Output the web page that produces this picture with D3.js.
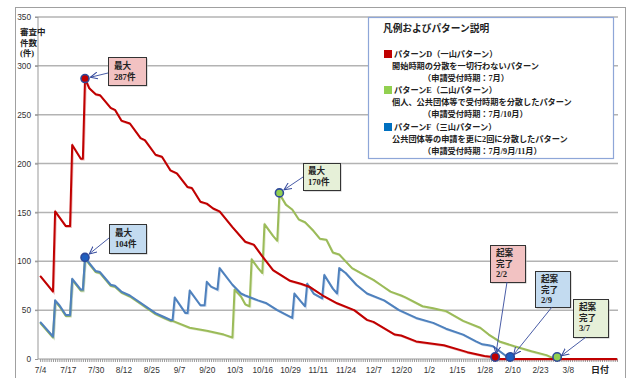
<!DOCTYPE html>
<html>
<head>
<meta charset="utf-8">
<script src="https://cdn.jsdelivr.net/npm/d3@7"></script>
<style>
    body { margin: 0; background: #fff; }
    svg { display: block; }
    .jp { font-family: "Liberation Serif", "Noto Sans CJK JP", serif; font-weight: bold; fill: #222; }
    .axis-x text, .axis-y text { font-family: "Liberation Sans", Arial, sans-serif; font-size: 8.3px; fill: #333; }
    .axis-x path, .axis-y path { stroke: #999; }
    .axis-x line, .axis-y line { stroke: #999; }
    .grid-line { stroke: #b3b3b3; stroke-width: 1.5; }
    .arrow-line { stroke: #34499c; stroke-width: 0.9; fill: none; }
</style>
</head>
<body>
<div id="chart"></div>
<script>
// 審査中件数 (date, count)
var patternD = [
    ["7/4",85],["7/10",69],["7/11",151],["7/16",136],["7/18",136],["7/19",219],["7/23",205],["7/24",205],
    ["7/25",287],["7/27",277],["7/30",271],["8/1",270],["8/6",257],["8/8",255],["8/11",244],["8/15",241],
    ["8/20",226],["8/22",224],["8/27",209],["8/30",207],["9/3",193],["9/6",190],["9/11",176],["9/13",175],
    ["9/17",161],["9/20",159],["9/23",154],["9/26",151],["10/2",135],["10/8",120],["10/12",117],["10/16",105],
    ["10/21",91],["10/29",80],["11/3",77],["11/7",74],["11/14",64],["11/20",57],["11/28",50],["12/4",40],
    ["12/7",38],["12/17",25],["12/20",24],["12/27",18],["1/9",14],["1/20",7],["1/28",3],["2/1",2],
    ["2/2",0],["3/31",0]
]

// E and F are identical until early September
var sharedStart = [
    ["7/4",38],["7/10",23],["7/11",60],["7/13",55],["7/16",45],["7/18",45],["7/19",82],["7/23",71],
    ["7/24",71],["7/25",104],["7/27",98],["7/30",90],["8/1",89],["8/6",76],["8/8",75],["8/11",69],
    ["8/15",65],["8/21",56],["8/27",47],["8/31",43],["9/3",40],["9/4",40]
]

var patternE = sharedStart.concat([
    ["9/12",33],["9/20",30],["9/28",26],["10/2",23],["10/3",72],["10/6",65],["10/8",57],["10/10",55],
    ["10/11",103],["10/14",94],["10/16",89],["10/17",139],["10/21",127],["10/23",122],["10/24",170],
    ["10/27",159],["10/30",154],["11/2",144],["11/5",141],["11/9",132],["11/12",124],["11/15",123],
    ["11/18",110],["11/21",108],["11/24",101],["11/27",94],["12/2",88],["12/7",82],["12/11",76],
    ["12/15",70],["12/20",66],["12/22",64],["12/30",55],["1/4",53],["1/10",50],["1/18",40],["1/26",33],
    ["1/30",26],["2/4",19],["2/11",14],["2/19",9],["2/26",5],["3/3",0]
])

var patternF = sharedStart.concat([
    ["9/5",63],["9/10",47],["9/11",47],["9/12",70],["9/17",55],["9/19",55],["9/20",79],["9/22",74],
    ["9/25",71],["9/26",93],["10/2",76],["10/6",67],["10/8",65],["10/14",60],["10/18",57],["10/23",50],
    ["10/30",42],["10/31",67],["11/3",59],["11/5",54],["11/6",77],["11/9",67],["11/13",62],["11/14",86],
    ["11/18",72],["11/20",67],["11/21",93],["11/24",88],["11/29",76],["12/4",67],["12/12",60],["12/19",50],
    ["12/27",42],["1/4",37],["1/10",31],["1/18",25],["1/24",18],["1/27",15],["1/30",14],["2/1",13],
    ["2/9",0]
])

var xTickLabels = ["7/4","7/17","7/30","8/12","8/25","9/7","9/20","10/3","10/16","10/29",
    "11/11","11/24","12/7","12/20","1/2","1/15","1/28","2/10","2/23","3/8"]
var yTickValues = [0, 50, 100, 150, 200, 250, 300, 350]

var peakMarks = [
    {date: "7/25", value: 287, fill: "#c00000", box: "#f2c2c2", text: ["最大", "287件"]},
    {date: "7/25", value: 104, fill: "#1f5fbf", box: "#c3dbf0", text: ["最大", "104件"]},
    {date: "10/24", value: 170, fill: "#92d050", box: "#e6f0d8", text: ["最大", "170件"]}
]
var doneMarks = [
    {date: "2/2", value: 0, fill: "#c00000", box: "#f2c2c2", text: ["起案", "完了", "2/2"]},
    {date: "2/9", value: 0, fill: "#1f5fbf", box: "#c3dbf0", text: ["起案", "完了", "2/9"]},
    {date: "3/3", value: 0, fill: "#92d050", box: "#e6f0d8", text: ["起案", "完了", "3/7"]}
]

var legendTitle = "凡例およびパターン説明"
var legendItems = [
    {color: "#c00000", lines: ["パターンD（一山パターン）", "開始時期の分散を一切行わないパターン", "（申請受付時期：7月）"]},
    {color: "#92d050", lines: ["パターンE（二山パターン）", "個人、公共団体等で受付時期を分散したパターン", "（申請受付時期：7月/10月）"]},
    {color: "#0070c0", lines: ["パターンF（三山パターン）", "公共団体等の申請を更に2回に分散したパターン", "（申請受付時期：7月/9月/11月）"]}
]

function parseDay(s){
    var p = s.split("/"), m = +p[0], d = +p[1]
    return new Date(m >= 7 ? 2013 : 2014, m - 1, d)
}

var W = 634, H = 378

var svg = d3.select("#chart")
    .append("svg")
        .attr("width", W)
        .attr("height", H)

var defs = svg.append("defs")
defs.append("marker")
    .attr("id", "arrow")
    .attr("viewBox", "0 0 8 8")
    .attr("refX", 7.5)
    .attr("refY", 4)
    .attr("markerWidth", 8)
    .attr("markerHeight", 8)
    .attr("markerUnits", "userSpaceOnUse")
    .attr("orient", "auto")
    .append("path")
        .attr("d", "M0,0.5 L7.5,4 L0,7.5")
        .attr("fill", "none")
        .attr("stroke", "#34499c")
        .attr("stroke-width", 1)

// outer frame
svg.append("rect")
    .attr("x", 15.5)
    .attr("y", 7.5)
    .attr("width", 610)
    .attr("height", 390)
    .attr("fill", "none")
    .attr("stroke", "#a0a0a0")

var plot = {left: 38, right: 618, top: 17, bottom: 359}

var x = d3.scaleTime()
    .domain([new Date(2013, 6, 3), new Date(2014, 2, 31, 12)])
    .range([plot.left, plot.right])

var y = d3.scaleLinear()
    .domain([0, 350])
    .range([plot.bottom, plot.top])

// gridlines
svg.append("g")
    .selectAll("line")
    .data(yTickValues.filter(d => d > 0))
    .enter()
    .append("line")
        .attr("class", "grid-line")
        .attr("x1", plot.left - 3)
        .attr("x2", plot.right)
        .attr("y1", d => y(d))
        .attr("y2", d => y(d))

// y axis
var yAxis = svg.append("g")
    .attr("class", "axis-y")
    .attr("transform", "translate(" + plot.left + ",0)")
    .call(d3.axisLeft(y).tickValues(yTickValues).tickSize(3).tickPadding(4))
yAxis.select(".domain").attr("d", "M0," + plot.top + "V" + plot.bottom)

// y label
var yLab = ["審査中", "件数", "(件)"]
svg.append("g")
    .selectAll("text")
    .data(yLab)
    .enter()
    .append("text")
        .attr("class", "jp")
        .attr("x", 20)
        .attr("y", (d, i) => 35 + i * 10.5)
        .attr("font-size", "8.5px")
        .text(d => d)

// x axis: daily minor ticks
var allDays = d3.timeDay.range(new Date(2013, 6, 4), new Date(2014, 3, 1))
svg.append("g")
    .attr("class", "axis-x")
    .attr("transform", "translate(0," + plot.bottom + ")")
    .call(d3.axisBottom(x).tickValues(allDays).tickSize(3).tickFormat(""))
    .select(".domain").attr("d", "M" + plot.left + ",0H" + plot.right)

svg.append("g")
    .attr("class", "axis-x")
    .attr("transform", "translate(0," + plot.bottom + ")")
    .call(d3.axisBottom(x)
        .tickValues(xTickLabels.map(parseDay))
        .tickSize(0)
        .tickPadding(8)
        .tickFormat((d, i) => xTickLabels[i]))
    .select(".domain").remove()

svg.append("text")
    .attr("class", "jp")
    .attr("x", 600)
    .attr("y", 373)
    .attr("text-anchor", "middle")
    .attr("font-size", "9px")
    .text("日付")

// series
var line = d3.line()
    .x(d => x(parseDay(d[0])))
    .y(d => y(d[1]))

var series = [
    {data: patternE, color: "#9bbb59", dy: 1},
    {data: patternF, color: "#4f81bd", dy: 0},
    {data: patternD, color: "#c00000", dy: 0}
]

series.forEach(function(s){
    svg.append("path")
        .datum(s.data)
        .attr("transform", "translate(0.8," + (s.dy + 0.8) + ")")
        .attr("fill", "none")
        .attr("stroke", s.color)
        .attr("stroke-opacity", 0.3)
        .attr("stroke-width", 2)
        .attr("d", line)
    svg.append("path")
        .datum(s.data)
        .attr("transform", "translate(0," + s.dy + ")")
        .attr("fill", "none")
        .attr("stroke", s.color)
        .attr("stroke-width", 2)
        .attr("stroke-linejoin", "round")
        .attr("d", line)
})

// legend
var legend = svg.append("g")
legend.append("rect")
    .attr("x", 368.5)
    .attr("y", 17.5)
    .attr("width", 245)
    .attr("height", 141)
    .attr("fill", "#fff")
    .attr("stroke", "#8ea6d8")
    .attr("stroke-width", 1.2)

legend.append("text")
    .attr("class", "jp")
    .attr("x", 383)
    .attr("y", 32)
    .attr("font-size", "9.7px")
    .text(legendTitle)

var itemTops = [54, 90, 127]
legendItems.forEach(function(item, i){
    var cy = itemTops[i]
    legend.append("rect")
        .attr("x", 384)
        .attr("y", cy - 4)
        .attr("width", 8)
        .attr("height", 8)
        .attr("fill", item.color)
    var offs = [{x: 394, dy: 0}, {x: 392, dy: 12}, {x: 423, dy: 23.5}]
    item.lines.forEach(function(t, j){
        legend.append("text")
            .attr("class", "jp")
            .attr("x", offs[j].x)
            .attr("y", cy + offs[j].dy + 3)
            .attr("font-size", "8.2px")
            .text(t)
    })
})

// annotation boxes
function drawBox(b, mark){
    var g = svg.append("g")
    g.append("rect")
        .attr("x", b.x + 1.5)
        .attr("y", b.y + 1.5)
        .attr("width", b.w)
        .attr("height", b.h)
        .attr("fill", "#bbb")
    g.append("rect")
        .attr("x", b.x + 0.5)
        .attr("y", b.y + 0.5)
        .attr("width", b.w)
        .attr("height", b.h)
        .attr("fill", mark.box)
        .attr("stroke", "#333")
        .attr("stroke-width", 1)
    mark.text.forEach(function(t, j){
        g.append("text")
            .attr("class", "jp")
            .attr("x", b.x + b.pad)
            .attr("y", b.y + b.first + j * b.lh)
            .attr("font-size", "8.6px")
            .text(t)
    })
    var px = x(parseDay(mark.date)), py = y(mark.value)
    // arrow from box anchor to the marker
    var ang = Math.atan2(py - b.ay, px - b.ax), r = 5.5
    svg.append("line")
        .attr("class", "arrow-line")
        .attr("x1", b.ax)
        .attr("y1", b.ay)
        .attr("x2", px - Math.cos(ang) * r)
        .attr("y2", py - Math.sin(ang) * r)
        .attr("marker-end", "url(#arrow)")
}

var peakBoxes = [
    {x: 108, y: 57, w: 38, h: 28, pad: 6, first: 12, lh: 11, ax: 108, ay: 73},
    {x: 109, y: 224, w: 37, h: 29, pad: 6, first: 12, lh: 11, ax: 109, ay: 238},
    {x: 303, y: 163, w: 37, h: 27, pad: 5, first: 11, lh: 11, ax: 303, ay: 177}
]
var doneBoxes = [
    {x: 490, y: 245, w: 35, h: 37, pad: 6, first: 11, lh: 10.7, ax: 507, ay: 282},
    {x: 535, y: 271, w: 35, h: 36, pad: 6, first: 11, lh: 10.7, ax: 552, ay: 307},
    {x: 573, y: 299, w: 35, h: 38, pad: 6, first: 11, lh: 10.7, ax: 586, ay: 337}
]

peakMarks.forEach((m, i) => drawBox(peakBoxes[i], m))
doneMarks.forEach((m, i) => drawBox(doneBoxes[i], m))

// markers on top
svg.append("g")
    .selectAll("circle")
    .data(peakMarks.concat(doneMarks))
    .enter()
    .append("circle")
        .attr("cx", d => x(parseDay(d.date)))
        .attr("cy", d => y(d.value) - (d.value === 0 ? 2 : 0))
        .attr("r", d => d.value === 0 ? 4.2 : 4)
        .attr("fill", d => d.fill)
        .attr("stroke", "#2e4a9a")
        .attr("stroke-width", 1.6)
</script>
</body>
</html>
